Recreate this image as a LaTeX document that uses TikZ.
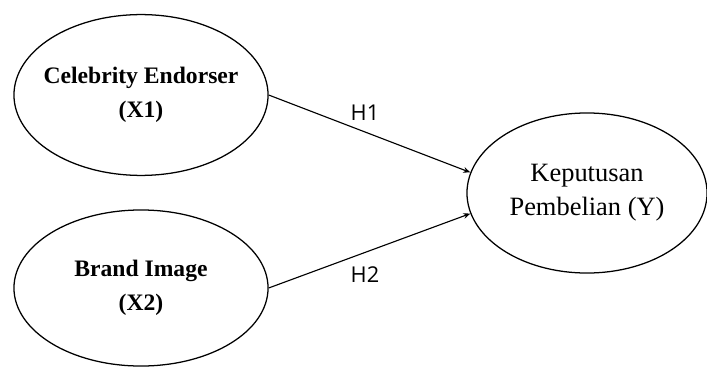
\documentclass[tikz,border=0pt]{standalone}
\usepackage{fontspec}
\setmainfont{Liberation Serif}
\newfontfamily\hypfont{Open Sans}
\usetikzlibrary{shapes.geometric,arrows.meta}

\begin{document}
\begin{tikzpicture}[x=0.025cm, y=-0.025cm,
    every node/.style={align=center},
    var/.style={draw, ellipse, line width=0.9pt, inner sep=0pt, inner xsep=-0.6cm},
    hyp/.style={font=\hypfont\fontsize{15.5}{18}\selectfont},
    hyparrow/.style={line width=0.8pt, -{Stealth[length=5pt,width=4pt]}}
  ]
  \useasboundingbox (0,0) rectangle (707,367);
  \node[var, minimum width=6.35cm, minimum height=4.02cm, font=\bfseries\fontsize{16.8}{24.5}\selectfont] (ce) at (141,95) {Celebrity Endorser\\(X1)};
  \node[var, minimum width=6.35cm, minimum height=3.9cm, font=\bfseries\fontsize{16.8}{24.5}\selectfont] (bi) at (141,288) {Brand Image\\(X2)};
  \node[var, minimum width=6.0cm, minimum height=4.0cm, font=\fontsize{18.8}{24}\selectfont] (kp) at (587,193) {Keputusan\\Pembelian (Y)};
  \node[hyp] (h1) at (365,113) {H1};
  \node[hyp] (h2) at (365,275) {H2};
  \draw[hyparrow] (ce.east) -- (kp.170);
  \draw[hyparrow] (bi.east) -- (kp.190);
\end{tikzpicture}
\end{document}
